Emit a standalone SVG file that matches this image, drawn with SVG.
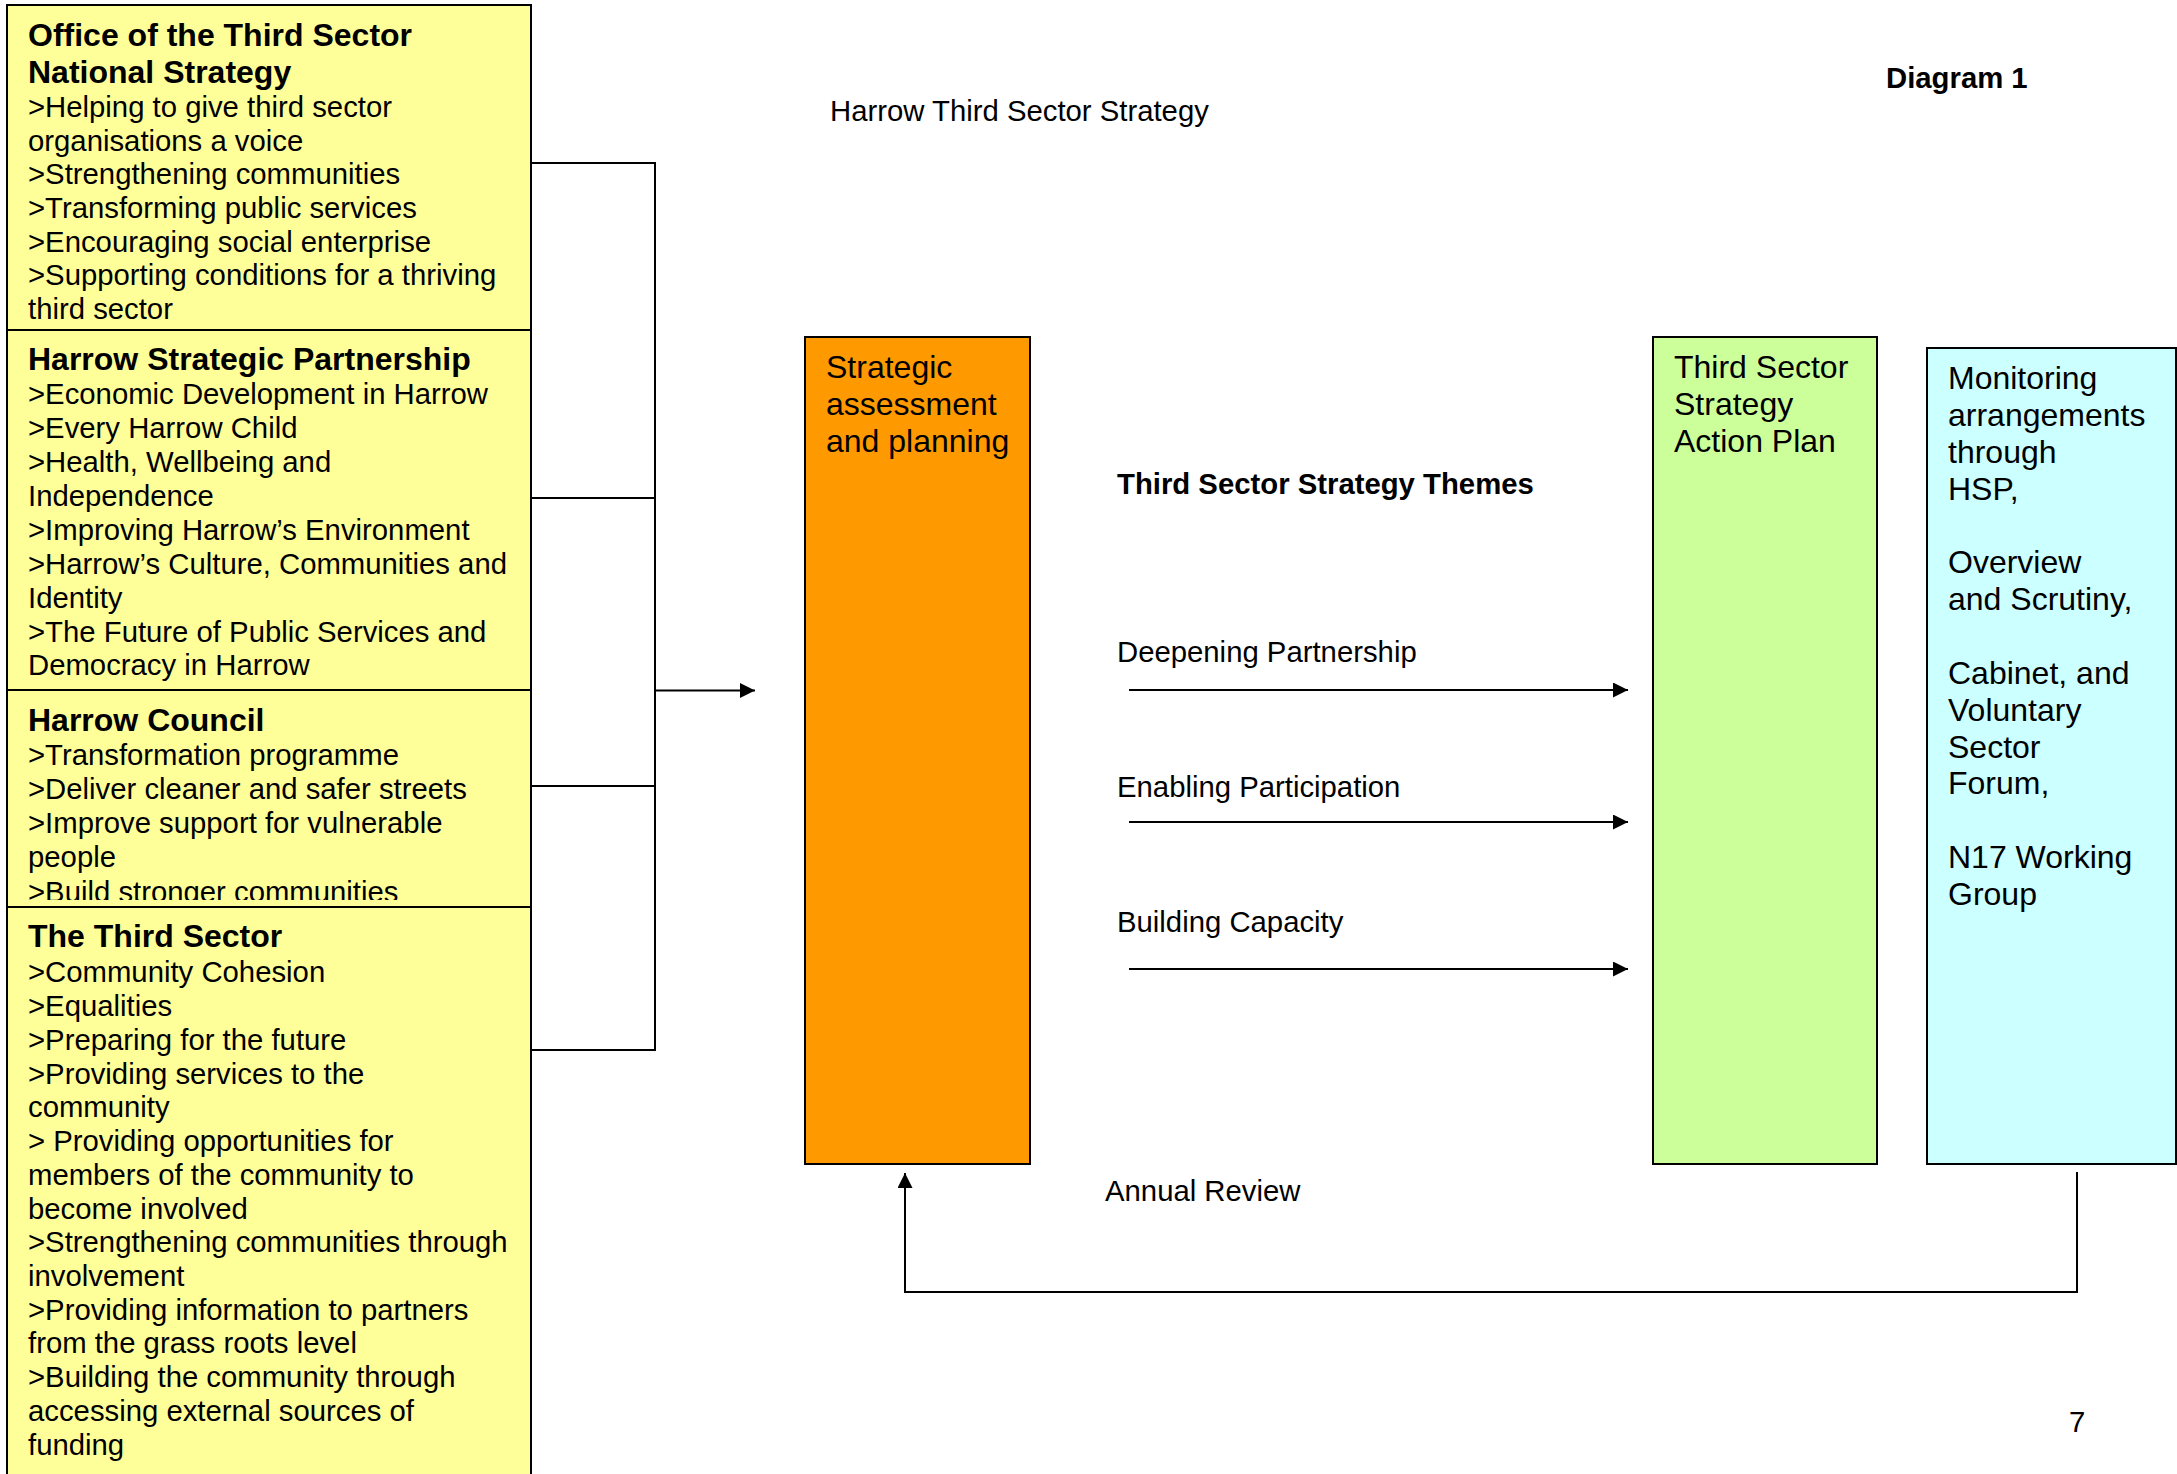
<svg xmlns="http://www.w3.org/2000/svg" width="2177" height="1474" viewBox="0 0 2177 1474">
<style>
text{font-family:"Liberation Sans",Arial,sans-serif;fill:#000}
.b{font-size:29.3px}
.h{font-size:32px;font-weight:bold}
.bb{font-size:29.3px;font-weight:bold}
.l{font-size:32px}
.box{stroke:#000;stroke-width:2}
.ln{fill:none;stroke:#000;stroke-width:2}
</style>
<defs>
<marker id="ah" markerWidth="16" markerHeight="16" refX="15" refY="7.5" orient="auto" markerUnits="userSpaceOnUse">
<path d="M0,0 L15,7.5 L0,15 Z" fill="#000"/>
</marker>
<clipPath id="hcClip"><rect x="7" y="690" width="524" height="210"/></clipPath>
</defs>
<rect width="2177" height="1474" fill="#fff"/>

<g id="title">
<text class="b" x="830" y="121">Harrow Third Sector Strategy</text>
<text class="bb" x="1886" y="88">Diagram 1</text>
<text class="b" x="2069" y="1432">7</text>
</g>

<g id="office">
<rect class="box" x="7" y="5" width="524" height="325" fill="#FFFF99"/>
<text class="h" x="28" y="46">Office of the Third Sector</text>
<text class="h" x="28" y="83">National Strategy</text>
<text class="b" x="28" y="117">&gt;Helping to give third sector</text>
<text class="b" x="28" y="150.5">organisations a voice</text>
<text class="b" x="28" y="184">&gt;Strengthening communities</text>
<text class="b" x="28" y="218">&gt;Transforming public services</text>
<text class="b" x="28" y="251.5">&gt;Encouraging social enterprise</text>
<text class="b" x="28" y="285">&gt;Supporting conditions for a thriving</text>
<text class="b" x="28" y="319">third sector</text>
</g>

<g id="hsp">
<rect class="box" x="7" y="330" width="524" height="360" fill="#FFFF99"/>
<text class="h" x="28" y="370">Harrow Strategic Partnership</text>
<text class="b" x="28" y="404">&gt;Economic Development in Harrow</text>
<text class="b" x="28" y="438">&gt;Every Harrow Child</text>
<text class="b" x="28" y="472">&gt;Health, Wellbeing and</text>
<text class="b" x="28" y="506">Independence</text>
<text class="b" x="28" y="540">&gt;Improving Harrow’s Environment</text>
<text class="b" x="28" y="574">&gt;Harrow’s Culture, Communities and</text>
<text class="b" x="28" y="607.5">Identity</text>
<text class="b" x="28" y="641.5">&gt;The Future of Public Services and</text>
<text class="b" x="28" y="675">Democracy in Harrow</text>
</g>

<g id="council">
<rect class="box" x="7" y="690" width="524" height="217" fill="#FFFF99"/>
<g clip-path="url(#hcClip)">
<text class="h" x="28" y="731">Harrow Council</text>
<text class="b" x="28" y="765">&gt;Transformation programme</text>
<text class="b" x="28" y="799">&gt;Deliver cleaner and safer streets</text>
<text class="b" x="28" y="833">&gt;Improve support for vulnerable</text>
<text class="b" x="28" y="867">people</text>
<text class="b" x="28" y="902">&gt;Build stronger communities</text>
</g>
</g>

<g id="thirdsector">
<rect class="box" x="7" y="907" width="524" height="580" fill="#FFFF99"/>
<text class="h" x="28" y="947">The Third Sector</text>
<text class="b" x="28" y="982">&gt;Community Cohesion</text>
<text class="b" x="28" y="1016">&gt;Equalities</text>
<text class="b" x="28" y="1050">&gt;Preparing for the future</text>
<text class="b" x="28" y="1083.5">&gt;Providing services to the</text>
<text class="b" x="28" y="1117">community</text>
<text class="b" x="28" y="1151">&gt; Providing opportunities for</text>
<text class="b" x="28" y="1185">members of the community to</text>
<text class="b" x="28" y="1218.5">become involved</text>
<text class="b" x="28" y="1252">&gt;Strengthening communities through</text>
<text class="b" x="28" y="1286">involvement</text>
<text class="b" x="28" y="1319.5">&gt;Providing information to partners</text>
<text class="b" x="28" y="1353">from the grass roots level</text>
<text class="b" x="28" y="1387">&gt;Building the community through</text>
<text class="b" x="28" y="1421">accessing external sources of</text>
<text class="b" x="28" y="1455">funding</text>
</g>

<g id="strategic">
<rect class="box" x="805" y="337" width="225" height="827" fill="#FF9900"/>
<text class="l" x="826" y="378">Strategic</text>
<text class="l" x="826" y="415">assessment</text>
<text class="l" x="826" y="452">and planning</text>
</g>

<g id="themes">
<text class="bb" x="1117" y="494">Third Sector Strategy Themes</text>
<text class="b" x="1117" y="662">Deepening Partnership</text>
<text class="b" x="1117" y="797">Enabling Participation</text>
<text class="b" x="1117" y="932">Building Capacity</text>
<text class="b" x="1105" y="1201">Annual Review</text>
</g>

<g id="actionplan">
<rect class="box" x="1653" y="337" width="224" height="827" fill="#CCFF99"/>
<text class="l" x="1674" y="378">Third Sector</text>
<text class="l" x="1674" y="415">Strategy</text>
<text class="l" x="1674" y="452">Action Plan</text>
</g>

<g id="monitoring">
<rect class="box" x="1927" y="348" width="249" height="816" fill="#CCFFFF"/>
<text class="l" x="1948" y="389">Monitoring</text>
<text class="l" x="1948" y="426">arrangements</text>
<text class="l" x="1948" y="463">through</text>
<text class="l" x="1948" y="500">HSP,</text>
<text class="l" x="1948" y="573">Overview</text>
<text class="l" x="1948" y="610">and Scrutiny,</text>
<text class="l" x="1948" y="684">Cabinet, and</text>
<text class="l" x="1948" y="721">Voluntary</text>
<text class="l" x="1948" y="758">Sector</text>
<text class="l" x="1948" y="794">Forum,</text>
<text class="l" x="1948" y="868">N17 Working</text>
<text class="l" x="1948" y="905">Group</text>
</g>

<g id="connectors">
<path class="ln" d="M531,163 H655 V1050 H531"/>
<path class="ln" d="M531,498 H655"/>
<path class="ln" d="M531,786 H655"/>
<path class="ln" d="M655,690.5 H755" marker-end="url(#ah)"/>
<path class="ln" d="M1129,690 H1628" marker-end="url(#ah)"/>
<path class="ln" d="M1129,822 H1628" marker-end="url(#ah)"/>
<path class="ln" d="M1129,969 H1628" marker-end="url(#ah)"/>
<path class="ln" d="M2077,1172 V1292 H905 V1173" marker-end="url(#ah)"/>
</g>
</svg>
